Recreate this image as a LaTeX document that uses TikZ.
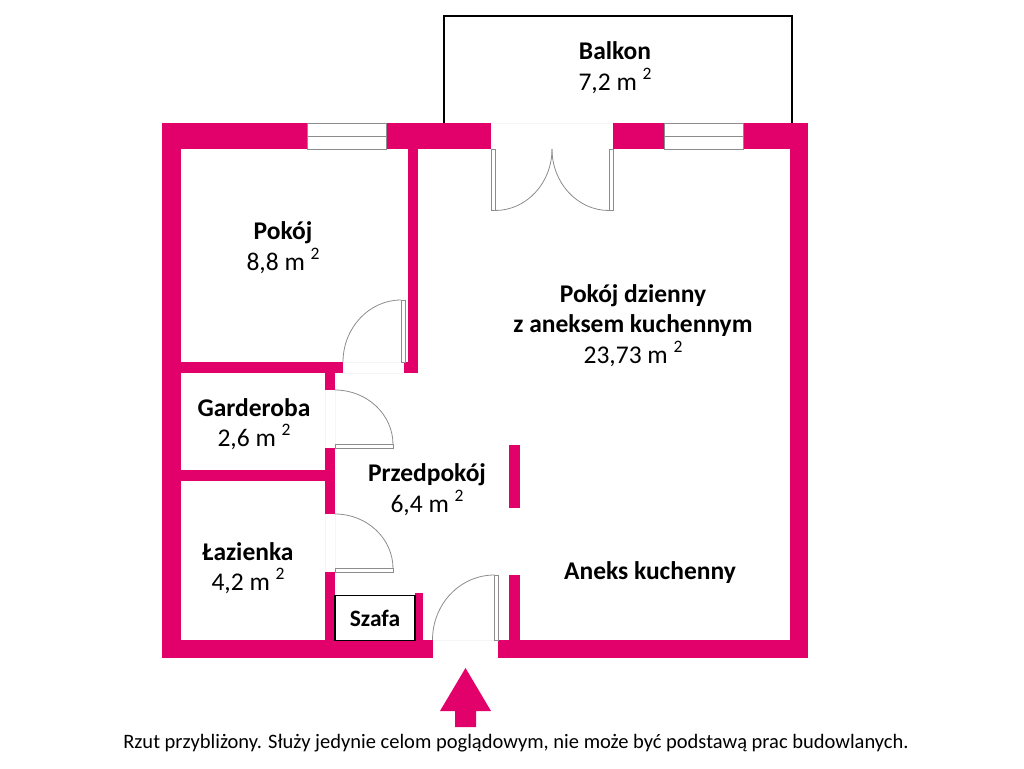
\documentclass[tikz,border=0pt]{standalone}
\usepackage{fontspec}
\setmainfont{Carlito}
\definecolor{wallpink}{HTML}{E2006B}
\definecolor{framegray}{HTML}{8C8C8C}
\definecolor{sillgray}{HTML}{F5F5F5}
\newcommand{\sqm}{\raisebox{0.42em}{\fontsize{17.5}{17.5}\selectfont 2}}
\tikzset{
    wall/.style={fill=wallpink,draw=none},
    frame/.style={draw=framegray,line width=0.9pt,fill=white},
    swing/.style={draw=framegray,line width=0.8pt},
    sill/.style={draw=sillgray,line width=0.6pt},
    room/.style={align=center,font=\fontsize{25.5}{30.5}\selectfont,inner sep=0pt}
}
\begin{document}
\begin{tikzpicture}[x=1pt,y=-1pt]
    % Page size of the reference
    \useasboundingbox (0,0) rectangle (1024,768);

    % Balcony railing
    \draw[black,line width=2.6pt,line join=miter] (444,124) -- (444,16) -- (792,16) -- (792,124);

    % Outer walls
    \fill[wall] (162,123) rectangle (491,149);
    \fill[wall] (613,123) rectangle (808,149);
    \fill[wall] (162,123) rectangle (181,658);
    \fill[wall] (790,123) rectangle (808,658);
    \fill[wall] (162,640) rectangle (433,658);
    \fill[wall] (498,640) rectangle (808,658);

    % Inner walls
    \fill[wall] (408,149) rectangle (418,373);
    \fill[wall] (181,362) rectangle (343,373);
    \fill[wall] (404,362) rectangle (418,373);
    \fill[wall] (181,470) rectangle (325,481);
    \fill[wall] (325,373) rectangle (335,390);
    \fill[wall] (325,448) rectangle (335,514);
    \fill[wall] (325,572) rectangle (335,640);
    \fill[wall] (415,593) rectangle (423,640);
    \fill[wall] (509,575) rectangle (520,640);
    \fill[wall] (509,445) rectangle (520,508);

    % Windows
    \foreach \xa/\xb in {307/386,664/743}{
        \draw[frame] (\xa,123.5) rectangle (\xb,149);
        \draw[frame] (\xa,136.5) -- (\xb,136.5);
    }

    % Balcony door
    \draw[sill] (491,123.5) -- (613,123.5);
    \draw[frame] (491,149) rectangle (495,210.5);
    \draw[frame] (609,149) rectangle (613,210.5);
    \draw[swing] (495,210.5) .. controls (526.5,210.5) and (552,183) .. (552,149);
    \draw[swing] (609,210.5) .. controls (577.5,210.5) and (552,183) .. (552,149);

    % Door of the small room
    \draw[sill] (343,362) -- (404,362) (343,373) -- (404,373);
    \draw[frame] (401,300) rectangle (405,362);
    \draw[swing] (401,300) .. controls (369,300) and (343,328) .. (343,362);

    % Wardrobe and bathroom doors
    \foreach \ya in {390,514}{
        \draw[sill] (325,\ya) -- (325,\ya+58) (335,\ya) -- (335,\ya+58);
        \draw[frame] (335,\ya+54.5) rectangle (393,\ya+58);
        \draw[swing] (335,\ya) .. controls (367,\ya) and (393,\ya+24.5) .. (393,\ya+54.5);
    }

    % Entrance door
    \draw[sill] (433,640) -- (498,640);
    \draw[frame] (494.5,575) rectangle (498,640);
    \draw[swing] (494.5,575) .. controls (460,575) and (432.5,604) .. (432.5,640);

    % Built-in cupboard
    \node[draw=black,line width=1.2pt,minimum width=80pt,minimum height=45.5pt,inner sep=0pt,
        font=\fontsize{23.5}{25}\selectfont\bfseries] (szafa) at (375,618) {Szafa};

    % Entrance arrow
    \fill[wall] (465.5,668) -- (491,711) -- (476,711) -- (476,727) -- (455,727) -- (455,711) -- (440,711) -- cycle;

    % Room labels
    \node[room] (balkon) at (615,67.5) {\textbf{Balkon}\\7,2 m \sqm};
    \node[room] (pokoj) at (283,247.5) {\textbf{Pokój}\\8,8 m \sqm};
    \node[room] (dzienny) at (633,325.5) {\textbf{Pokój dzienny}\\\textbf{z aneksem kuchennym}\\23,73 m \sqm};
    \node[room] (garderoba) at (254,424) {\textbf{Garderoba}\\2,6 m \sqm};
    \node[room] (przedpokoj) at (427,489.5) {\textbf{Przedpokój}\\6,4 m \sqm};
    \node[room] (lazienka) at (248,568) {\textbf{Łazienka}\\4,2 m \sqm};
    \node[room] (aneks) at (650,573) {\textbf{Aneks kuchenny}};

    % Note under the plan
    \node[font=\fontsize{20.5}{24}\selectfont,inner sep=0pt] (uwaga) at (516,743)
        {Rzut przybliżony. Służy jedynie celom poglądowym, nie może być podstawą prac budowlanych.};
\end{tikzpicture}
\end{document}
